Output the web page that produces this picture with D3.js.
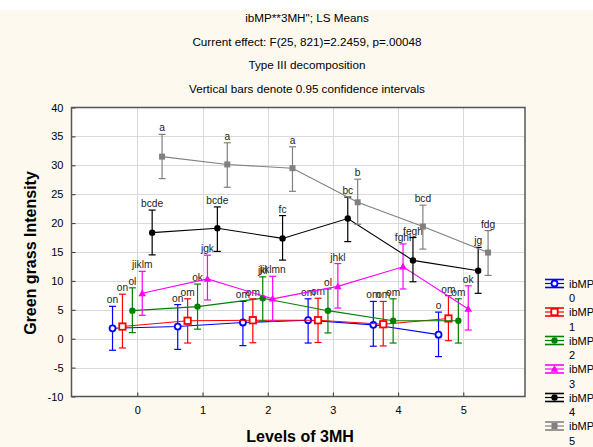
<!DOCTYPE html>
<html>
<head>
<meta charset="utf-8">
<script src="https://cdn.jsdelivr.net/npm/d3@7"></script>
<style>
  body { margin: 0; background: #fdf9ee; }
  svg { display: block; font-family: "Liberation Sans", Arial, sans-serif; }
</style>
</head>
<body>
<svg id="chart" width="593" height="447"></svg>
<script>
const levels = [0, 1, 2, 3, 4, 5];
const yTicks = [-10, -5, 0, 5, 10, 15, 20, 25, 30, 35, 40];
const titleLines = [
  'ibMP**3MH"; LS Means',
  'Current effect: F(25, 821)=2.2459, p=.00048',
  'Type III decomposition',
  'Vertical bars denote 0.95 confidence intervals'
];
const seriesNames = ['ibMP 0', 'ibMP 1', 'ibMP 2', 'ibMP 3', 'ibMP 4', 'ibMP 5'];
const seriesColors = ['#0000ff', '#ff0000', '#008000', '#ff00ff', '#000000', '#808080'];

// means, upper and lower confidence limits, letters per level
const means0 = [1.8, 2.1, 2.8, 3.2, 2.4, 0.7];
const upper0 = [5.6, 5.9, 6.45, 6.9, 6.45, 4.6];
const lower0 = [-2.0, -1.85, -1.2, -0.75, -1.3, -3.1];
const letters0 = ['on', 'on', 'om', 'om', 'om', 'o'];

const means1 = [2.1, 3.1, 3.2, 3.2, 2.5, 3.5];
const upper1 = [7.7, 6.9, 6.9, 7.0, 6.45, 7.45];
const lower1 = [-1.6, -0.75, -0.7, -0.65, -1.25, -0.35];
const letters1 = ['on', 'om', 'om', 'om', 'om', 'om'];

const means2 = [4.85, 5.55, 7.0, 4.85, 3.1, 3.1];
const upper2 = [8.8, 9.45, 10.7, 8.6, 6.9, 6.9];
const lower2 = [1.05, 1.65, 3.05, 1.0, -0.75, -0.75];
const letters2 = ['ol', 'ok', 'jkl', 'ol', 'om', 'om'];

const means3 = [7.85, 10.35, 6.9, 9.05, 12.45, 5.15];
const upper3 = [11.65, 14.45, 10.8, 13.0, 16.4, 9.15];
const lower3 = [4.05, 6.7, 3.05, 5.3, 8.6, 1.5];
const letters3 = ['jiklm', 'jgk', 'jiklmn', 'jhkl', 'fghi', 'ok'];

const means4 = [18.35, 19.1, 17.35, 20.8, 13.55, 11.75];
const upper4 = [22.25, 22.8, 21.3, 24.5, 17.5, 15.8];
const lower4 = [14.5, 15.1, 13.6, 16.8, 9.85, 7.85];
const letters4 = ['bcde', 'bcde', 'fc', 'bc', 'fegh', 'jg'];

const means5 = [31.5, 30.15, 29.5, 23.6, 19.4, 14.9];
const upper5 = [35.35, 33.9, 33.2, 27.6, 23.1, 18.7];
const lower5 = [27.7, 26.2, 25.5, 19.8, 15.5, 10.95];
const letters5 = ['a', 'a', 'a', 'b', 'bcd', 'fdg'];

const allMeans = [means0, means1, means2, means3, means4, means5];
const allUpper = [upper0, upper1, upper2, upper3, upper4, upper5];
const allLower = [lower0, lower1, lower2, lower3, lower4, lower5];
const allLetters = [letters0, letters1, letters2, letters3, letters4, letters5];

const svg = d3.select('#chart');
const frame = {left: 71.5, right: 525, top: 107.5, bottom: 396.5};

svg.append('rect').attr('width', 593).attr('height', 10).attr('fill', '#ffffff');

const x = d3.scaleLinear().domain([0, 5]).range([137.3, 463.3]);
const y = d3.scaleLinear().domain([-10, 40]).range([frame.bottom, frame.top]);
const groupShift = 0.152;

// title
svg.append('g').selectAll('text')
  .data(titleLines)
  .join('text')
  .attr('x', 307)
  .attr('y', (d, i) => 22 + i * 23.5)
  .attr('text-anchor', 'middle')
  .attr('font-size', 11.7)
  .attr('fill', '#000')
  .text(d => d);

// plot area
svg.append('rect')
  .attr('x', frame.left).attr('y', frame.top)
  .attr('width', frame.right - frame.left).attr('height', frame.bottom - frame.top)
  .attr('fill', '#ffffff');

const grid = svg.append('g').attr('stroke', '#d9d9d9').attr('stroke-width', 1);
grid.selectAll('line.h')
  .data(yTicks.slice(1, -1))
  .join('line')
  .attr('class', 'h')
  .attr('x1', frame.left).attr('x2', frame.right)
  .attr('y1', d => Math.round(y(d)) + 0.5).attr('y2', d => Math.round(y(d)) + 0.5);
grid.selectAll('line.v')
  .data(levels)
  .join('line')
  .attr('class', 'v')
  .attr('x1', d => Math.round(x(d)) + 0.5).attr('x2', d => Math.round(x(d)) + 0.5)
  .attr('y1', frame.top).attr('y2', frame.bottom);

// axes
const yAxis = svg.append('g')
  .attr('transform', `translate(${frame.left},0)`)
  .call(d3.axisLeft(y).tickValues(yTicks).tickFormat(d => String(d)).tickSize(-4).tickPadding(8));
const xAxis = svg.append('g')
  .attr('transform', `translate(0,${frame.bottom})`)
  .call(d3.axisBottom(x).tickValues(levels).tickFormat(d => String(d)).tickSize(-4).tickPadding(10));
[yAxis, xAxis].forEach(a => {
  a.select('.domain').remove();
  a.selectAll('line').attr('stroke', '#333');
  a.selectAll('text').attr('font-size', 11).attr('fill', '#000')
    .attr('font-family', '"Liberation Sans", Arial, sans-serif');
});

svg.append('rect')
  .attr('x', frame.left).attr('y', frame.top)
  .attr('width', frame.right - frame.left).attr('height', frame.bottom - frame.top)
  .attr('fill', 'none').attr('stroke', '#555').attr('stroke-width', 1.5);

// axis titles
svg.append('text')
  .attr('transform', 'translate(36,253) rotate(-90)')
  .attr('text-anchor', 'middle')
  .attr('font-size', 16).attr('font-weight', 'bold')
  .text('Green grass Intensity');
svg.append('text')
  .attr('x', 300).attr('y', 442)
  .attr('text-anchor', 'middle')
  .attr('font-size', 16).attr('font-weight', 'bold')
  .text('Levels of 3MH');

function drawMarker(g, s, cx, cy, color) {
  if (s === 0) {
    g.append('circle').attr('cx', cx).attr('cy', cy).attr('r', 3)
      .attr('fill', '#fff').attr('stroke', color).attr('stroke-width', 1.8);
  } else if (s === 1) {
    g.append('rect').attr('x', cx - 3.2).attr('y', cy - 3.2).attr('width', 6.4).attr('height', 6.4)
      .attr('fill', '#fff').attr('stroke', color).attr('stroke-width', 1.8);
  } else if (s === 2 || s === 4) {
    g.append('circle').attr('cx', cx).attr('cy', cy).attr('r', 3.2).attr('fill', color);
  } else if (s === 3) {
    g.append('path').attr('d', `M${cx},${cy - 4}L${cx + 3.8},${cy + 2.8}L${cx - 3.8},${cy + 2.8}Z`)
      .attr('fill', color);
  } else {
    g.append('rect').attr('x', cx - 3).attr('y', cy - 3).attr('width', 6).attr('height', 6)
      .attr('fill', color);
  }
}

const line = d3.line().x(d => x(d.lv)).y(d => y(d.m));

allMeans.forEach((means, s) => {
  const color = seriesColors[s];
  const shift = (s - 2.5) * groupShift;
  const pts = levels.map((lv, i) => ({
    lv: lv + shift, m: means[i], hi: allUpper[s][i], lo: allLower[s][i], t: allLetters[s][i]
  }));
  const g = svg.append('g');
  g.append('path').datum(pts)
    .attr('fill', 'none').attr('stroke', color).attr('stroke-width', 1.1)
    .attr('d', line);
  pts.forEach(p => {
    const cx = x(p.lv);
    g.append('line').attr('x1', cx).attr('x2', cx).attr('y1', y(p.hi)).attr('y2', y(p.lo))
      .attr('stroke', color).attr('stroke-width', 1.2);
    [p.hi, p.lo].forEach(v => {
      g.append('line').attr('x1', cx - 3.5).attr('x2', cx + 3.5).attr('y1', y(v)).attr('y2', y(v))
        .attr('stroke', color).attr('stroke-width', 1.2);
    });
    drawMarker(g, s, cx, y(p.m), color);
  });
  svg.append('g').selectAll('text')
    .data(pts)
    .join('text')
    .attr('x', d => x(d.lv))
    .attr('y', d => y(d.hi) - 3)
    .attr('text-anchor', 'middle')
    .attr('font-size', 10.2)
    .attr('fill', '#222')
    .text(d => d.t);
});

// legend
const legend = svg.append('g');
seriesNames.forEach((name, s) => {
  const ly = 283.5 + s * 28.5;
  const color = seriesColors[s];
  const lg = legend.append('g');
  [-4, 0, 4].forEach(dy => {
    lg.append('line').attr('x1', 545).attr('x2', 564).attr('y1', ly + dy).attr('y2', ly + dy)
      .attr('stroke', color).attr('stroke-width', dy === 0 ? 1.2 : 1.6);
  });
  drawMarker(lg, s, 554.5, ly, color);
  const parts = name.split(' ');
  lg.append('text').attr('x', 569).attr('y', ly + 4).attr('font-size', 11).text(parts[0]);
  lg.append('text').attr('x', 569).attr('y', ly + 18.5).attr('font-size', 11).text(parts[1]);
});
</script>
</body>
</html>
